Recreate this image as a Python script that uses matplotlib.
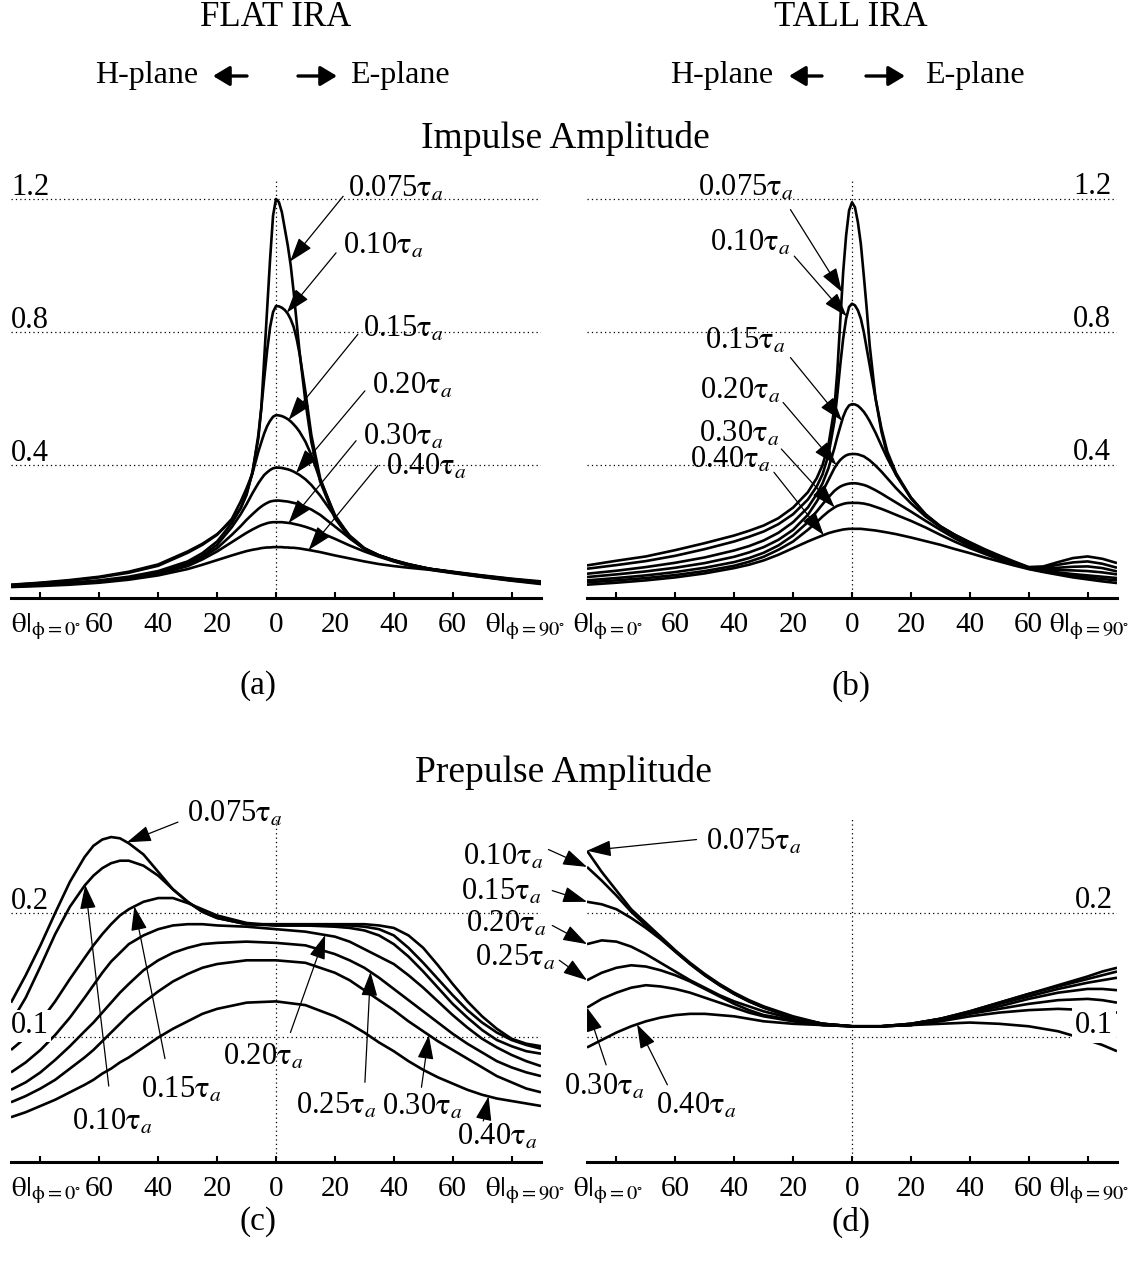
import numpy as np
import matplotlib
matplotlib.use("Agg")
import matplotlib.pyplot as plt

plt.rcParams['font.family'] = ['Liberation Serif', 'DejaVu Serif']
plt.rcParams['mathtext.fontset'] = 'stix'

W, H = 1146, 1272

# ---- impulse amplitude, flat IRA (a) ----
TH_A = [-90, -80, -70, -60, -50, -40, -30, -25, -20, -15, -12, -10, -8, -6, -5, -4, -3, -2, -1, 0,
        1, 2, 3, 4, 5, 6, 7, 8, 10, 12, 15, 20, 25, 30, 35, 40, 45, 52, 60, 70, 80, 90]
A075 = [0.040, 0.046, 0.054, 0.064, 0.079, 0.101, 0.140, 0.163, 0.192, 0.232, 0.270, 0.310, 0.380, 0.480, 0.570, 0.720, 0.870, 1.020, 1.150, 1.200,
        1.190, 1.160, 1.110, 1.060, 1.000, 0.920, 0.830, 0.740, 0.590, 0.470, 0.350, 0.240, 0.180, 0.148, 0.128, 0.114, 0.102, 0.088, 0.079, 0.068, 0.058, 0.050]
A010 = [0.039, 0.045, 0.052, 0.062, 0.076, 0.097, 0.136, 0.160, 0.190, 0.238, 0.290, 0.330, 0.375, 0.490, 0.570, 0.660, 0.745, 0.815, 0.860, 0.878,
        0.877, 0.873, 0.866, 0.855, 0.838, 0.815, 0.780, 0.735, 0.620, 0.490, 0.360, 0.245, 0.182, 0.148, 0.128, 0.113, 0.101, 0.088, 0.078, 0.067, 0.057, 0.048]
A015 = [0.037, 0.041, 0.046, 0.053, 0.064, 0.081, 0.110, 0.135, 0.170, 0.225, 0.270, 0.315, 0.375, 0.440, 0.468, 0.495, 0.517, 0.533, 0.545, 0.550,
        0.549, 0.547, 0.543, 0.538, 0.531, 0.522, 0.512, 0.500, 0.470, 0.430, 0.355, 0.250, 0.185, 0.149, 0.128, 0.113, 0.101, 0.088, 0.078, 0.066, 0.056, 0.047]
A020 = [0.036, 0.040, 0.045, 0.051, 0.061, 0.077, 0.104, 0.127, 0.160, 0.213, 0.252, 0.282, 0.315, 0.345, 0.358, 0.370, 0.378, 0.385, 0.390, 0.392,
        0.392, 0.391, 0.389, 0.387, 0.384, 0.380, 0.375, 0.370, 0.357, 0.340, 0.308, 0.245, 0.188, 0.150, 0.128, 0.112, 0.100, 0.088, 0.077, 0.065, 0.055, 0.046]
A025 = [0.035, 0.039, 0.044, 0.050, 0.060, 0.075, 0.100, 0.122, 0.150, 0.190, 0.216, 0.235, 0.252, 0.268, 0.275, 0.281, 0.286, 0.290, 0.292, 0.293,
        0.293, 0.292, 0.291, 0.290, 0.288, 0.286, 0.284, 0.281, 0.274, 0.266, 0.250, 0.215, 0.180, 0.148, 0.127, 0.111, 0.099, 0.087, 0.077, 0.065, 0.054, 0.045]
A030 = [0.034, 0.038, 0.043, 0.049, 0.058, 0.072, 0.096, 0.116, 0.140, 0.168, 0.185, 0.196, 0.206, 0.215, 0.219, 0.222, 0.225, 0.227, 0.228, 0.228,
        0.228, 0.228, 0.227, 0.226, 0.225, 0.223, 0.221, 0.219, 0.214, 0.208, 0.197, 0.178, 0.158, 0.140, 0.124, 0.110, 0.098, 0.086, 0.076, 0.064, 0.053, 0.044]
A040 = [0.033, 0.036, 0.040, 0.046, 0.055, 0.068, 0.087, 0.100, 0.114, 0.128, 0.136, 0.141, 0.145, 0.148, 0.150, 0.151, 0.152, 0.152, 0.153, 0.153,
        0.153, 0.153, 0.152, 0.152, 0.151, 0.151, 0.150, 0.149, 0.146, 0.143, 0.138, 0.128, 0.119, 0.110, 0.102, 0.096, 0.091, 0.085, 0.075, 0.063, 0.052, 0.042]

# ---- impulse amplitude, tall IRA (b) ----
TH_B = [-90, -80, -70, -60, -50, -40, -35, -30, -25, -20, -15, -12, -10, -8, -6, -5, -4, -3, -2, -1, 0,
        1, 2, 3, 4, 5, 6, 8, 10, 12, 15, 20, 25, 30, 35, 40, 45, 50, 55, 60, 65, 70, 75, 80, 85, 90]
B075 = [0.098, 0.112, 0.125, 0.144, 0.165, 0.188, 0.202, 0.218, 0.240, 0.272, 0.318, 0.360, 0.400, 0.460, 0.570, 0.680, 0.830, 0.980, 1.090, 1.165, 1.190,
        1.175, 1.130, 1.065, 0.970, 0.870, 0.760, 0.600, 0.500, 0.430, 0.370, 0.300, 0.250, 0.215, 0.190, 0.168, 0.147, 0.128, 0.110, 0.093, 0.095, 0.108, 0.120, 0.125, 0.118, 0.105]
B010 = [0.088, 0.099, 0.111, 0.127, 0.147, 0.170, 0.184, 0.200, 0.222, 0.252, 0.296, 0.335, 0.372, 0.430, 0.530, 0.610, 0.700, 0.780, 0.840, 0.875, 0.885,
        0.880, 0.865, 0.840, 0.800, 0.750, 0.700, 0.600, 0.510, 0.440, 0.375, 0.302, 0.250, 0.215, 0.189, 0.166, 0.145, 0.126, 0.108, 0.092, 0.092, 0.100, 0.107, 0.110, 0.103, 0.091]
B015 = [0.073, 0.082, 0.093, 0.106, 0.122, 0.143, 0.156, 0.173, 0.196, 0.228, 0.272, 0.312, 0.345, 0.390, 0.450, 0.484, 0.515, 0.545, 0.566, 0.579, 0.583,
        0.582, 0.578, 0.570, 0.560, 0.547, 0.532, 0.497, 0.458, 0.420, 0.370, 0.302, 0.252, 0.216, 0.189, 0.164, 0.143, 0.124, 0.107, 0.091, 0.089, 0.091, 0.094, 0.095, 0.090, 0.080]
B020 = [0.063, 0.071, 0.080, 0.091, 0.105, 0.124, 0.137, 0.153, 0.175, 0.205, 0.250, 0.290, 0.320, 0.355, 0.390, 0.404, 0.415, 0.423, 0.429, 0.432, 0.433,
        0.433, 0.432, 0.429, 0.426, 0.420, 0.414, 0.398, 0.380, 0.360, 0.330, 0.285, 0.245, 0.213, 0.185, 0.160, 0.140, 0.121, 0.105, 0.090, 0.086, 0.084, 0.083, 0.081, 0.077, 0.071]
B025 = [0.053, 0.060, 0.068, 0.078, 0.091, 0.108, 0.120, 0.136, 0.158, 0.188, 0.228, 0.260, 0.282, 0.303, 0.322, 0.329, 0.335, 0.339, 0.342, 0.344, 0.345,
        0.345, 0.344, 0.342, 0.340, 0.337, 0.333, 0.324, 0.314, 0.303, 0.287, 0.260, 0.232, 0.205, 0.179, 0.156, 0.137, 0.119, 0.104, 0.089, 0.082, 0.077, 0.072, 0.068, 0.064, 0.060]
B030 = [0.047, 0.053, 0.060, 0.069, 0.081, 0.097, 0.109, 0.124, 0.145, 0.170, 0.205, 0.228, 0.245, 0.260, 0.272, 0.277, 0.280, 0.283, 0.285, 0.286, 0.286,
        0.286, 0.286, 0.285, 0.284, 0.282, 0.280, 0.274, 0.268, 0.261, 0.250, 0.232, 0.212, 0.190, 0.169, 0.150, 0.133, 0.116, 0.102, 0.088, 0.080, 0.073, 0.067, 0.062, 0.057, 0.053]
B040 = [0.040, 0.046, 0.053, 0.062, 0.074, 0.090, 0.100, 0.113, 0.130, 0.150, 0.170, 0.181, 0.188, 0.195, 0.200, 0.202, 0.204, 0.206, 0.207, 0.208, 0.208,
        0.208, 0.208, 0.208, 0.207, 0.206, 0.205, 0.203, 0.200, 0.197, 0.192, 0.182, 0.171, 0.160, 0.147, 0.135, 0.122, 0.110, 0.098, 0.087, 0.078, 0.070, 0.062, 0.056, 0.050, 0.045]

# ---- prepulse amplitude, flat IRA (c) ----
TH_C = [-90, -85, -80, -75, -70, -65, -62, -59, -56, -53, -50, -45, -40, -35, -30, -25, -20, -10, 0, 10,
        20, 25, 30, 35, 40, 45, 50, 55, 60, 65, 70, 75, 80, 85, 90]
C075 = [0.128, 0.150, 0.174, 0.200, 0.225, 0.245, 0.254, 0.259, 0.261, 0.260, 0.256, 0.247, 0.233, 0.219, 0.209, 0.201, 0.196, 0.191, 0.191, 0.191,
        0.191, 0.191, 0.191, 0.190, 0.188, 0.182, 0.172, 0.158, 0.143, 0.129, 0.117, 0.107, 0.099, 0.095, 0.093]
C010 = [0.112, 0.132, 0.157, 0.183, 0.205, 0.222, 0.230, 0.236, 0.240, 0.242, 0.242, 0.238, 0.230, 0.219, 0.209, 0.201, 0.196, 0.191, 0.190, 0.190,
        0.190, 0.190, 0.189, 0.187, 0.182, 0.172, 0.160, 0.147, 0.134, 0.122, 0.112, 0.104, 0.098, 0.094, 0.091]
C015 = [0.090, 0.100, 0.113, 0.129, 0.147, 0.164, 0.174, 0.183, 0.191, 0.198, 0.203, 0.209, 0.212, 0.212, 0.208, 0.203, 0.198, 0.192, 0.190, 0.190,
        0.189, 0.188, 0.186, 0.182, 0.175, 0.165, 0.153, 0.140, 0.127, 0.116, 0.106, 0.098, 0.093, 0.089, 0.087]
C020 = [0.072, 0.080, 0.090, 0.102, 0.116, 0.132, 0.142, 0.152, 0.161, 0.168, 0.175, 0.182, 0.187, 0.190, 0.191, 0.191, 0.190, 0.189, 0.187, 0.185,
        0.181, 0.177, 0.171, 0.165, 0.159, 0.150, 0.140, 0.129, 0.118, 0.108, 0.099, 0.092, 0.086, 0.081, 0.077]
C025 = [0.058, 0.064, 0.072, 0.082, 0.093, 0.105, 0.112, 0.120, 0.128, 0.136, 0.143, 0.154, 0.162, 0.168, 0.172, 0.175, 0.176, 0.177, 0.176, 0.174,
        0.167, 0.162, 0.156, 0.148, 0.139, 0.130, 0.121, 0.112, 0.103, 0.095, 0.088, 0.081, 0.076, 0.072, 0.069]
C030 = [0.048, 0.053, 0.059, 0.066, 0.075, 0.084, 0.090, 0.097, 0.104, 0.111, 0.118, 0.128, 0.137, 0.145, 0.151, 0.156, 0.159, 0.162, 0.162, 0.160,
        0.152, 0.146, 0.138, 0.130, 0.122, 0.113, 0.105, 0.097, 0.090, 0.083, 0.076, 0.069, 0.064, 0.059, 0.056]
C040 = [0.036, 0.040, 0.045, 0.050, 0.056, 0.062, 0.066, 0.071, 0.075, 0.080, 0.084, 0.092, 0.100, 0.107, 0.113, 0.119, 0.123, 0.128, 0.129, 0.126,
        0.117, 0.111, 0.104, 0.096, 0.089, 0.081, 0.074, 0.068, 0.063, 0.058, 0.054, 0.051, 0.049, 0.047, 0.045]

# ---- prepulse amplitude, tall IRA (d) ----
TH_D = [-90, -85, -80, -75, -70, -65, -60, -55, -50, -45, -40, -35, -30, -20, -10, 0, 10, 20, 30, 40, 50, 60, 70, 80, 85, 90]
D075 = [0.250, 0.233, 0.218, 0.203, 0.192, 0.181, 0.170, 0.160, 0.151, 0.143, 0.136, 0.130, 0.125, 0.117, 0.111, 0.109, 0.109, 0.111, 0.115, 0.121, 0.128, 0.135, 0.142, 0.149, 0.153, 0.156]
D010 = [0.237, 0.226, 0.214, 0.201, 0.190, 0.180, 0.169, 0.159, 0.150, 0.142, 0.135, 0.129, 0.124, 0.116, 0.111, 0.109, 0.109, 0.111, 0.115, 0.121, 0.128, 0.135, 0.141, 0.147, 0.150, 0.153]
D015 = [0.209, 0.207, 0.203, 0.196, 0.188, 0.179, 0.169, 0.159, 0.150, 0.142, 0.135, 0.129, 0.124, 0.116, 0.111, 0.109, 0.109, 0.111, 0.115, 0.120, 0.127, 0.133, 0.139, 0.144, 0.146, 0.148]
D020 = [0.175, 0.178, 0.177, 0.173, 0.167, 0.160, 0.153, 0.146, 0.140, 0.134, 0.129, 0.125, 0.121, 0.115, 0.111, 0.109, 0.109, 0.110, 0.114, 0.120, 0.125, 0.131, 0.136, 0.139, 0.139, 0.138]
D025 = [0.146, 0.152, 0.156, 0.158, 0.157, 0.154, 0.150, 0.145, 0.139, 0.133, 0.127, 0.122, 0.118, 0.114, 0.110, 0.109, 0.109, 0.110, 0.114, 0.119, 0.123, 0.127, 0.130, 0.131, 0.130, 0.128]
D030 = [0.124, 0.131, 0.136, 0.140, 0.142, 0.141, 0.139, 0.136, 0.132, 0.128, 0.124, 0.120, 0.117, 0.113, 0.110, 0.109, 0.109, 0.110, 0.113, 0.117, 0.120, 0.122, 0.123, 0.122, 0.121, 0.120]
D040 = [0.092, 0.098, 0.104, 0.109, 0.113, 0.116, 0.118, 0.119, 0.119, 0.118, 0.117, 0.115, 0.113, 0.111, 0.110, 0.109, 0.109, 0.110, 0.111, 0.112, 0.111, 0.109, 0.105, 0.098, 0.094, 0.089]

XTICKS = [-80, -60, -40, -20, 0, 20, 40, 60, 80]
XLABELS = ['60', '40', '20', '0', '20', '40', '60']
GRID_IMP = [0.4, 0.8, 1.2]
GRID_PRE = [0.1, 0.2]

TAU = r'$\mathrm{\tau}_{a}$'
TH0 = r'$\left.\mathrm{\theta}\right|_{\mathrm{\phi}=0^{\circ}}$'
TH90 = r'$\left.\mathrm{\theta}\right|_{\mathrm{\phi}=90^{\circ}}$'

fig = plt.figure(figsize=(W / 100, H / 100), dpi=100)


def px_axes(left, right, bottom, top):
    return fig.add_axes([left / W, 1 - bottom / H, (right - left) / W, (bottom - top) / H])


def setup(ax, ytop, grid):
    ax.set_xlim(-90, 90)
    ax.set_ylim(0, ytop)
    for s in ['left', 'right', 'top']:
        ax.spines[s].set_visible(False)
    ax.spines['bottom'].set_linewidth(2.2)
    ax.set_yticks([])
    ax.set_xticks(XTICKS)
    ax.set_xticklabels([])
    ax.tick_params(axis='x', direction='in', length=4, width=1.5)
    ax.patch.set_visible(False)
    for g in grid:
        ax.axhline(g, color='k', lw=0.9, ls=(0, (1, 2.5)), zorder=1)
    ax.axvline(0, color='k', lw=0.9, ls=(0, (1, 2.5)), zorder=1)
    for x, s in zip(XTICKS[1:-1], XLABELS):
        ax.annotate(s, (x, 0), xycoords=('data', 'axes fraction'), xytext=(0, -34),
                    textcoords='offset pixels', ha='center', va='baseline', fontsize=21)


def theta_labels(ax, x0, x90):
    for x, s in [(x0, TH0), (x90, TH90)]:
        ax.annotate(s, (x, 0), xycoords=('data', 'axes fraction'), xytext=(0, -34),
                    textcoords='offset pixels', ha='left', va='baseline', fontsize=21,
                    annotation_clip=False)


def tag(ax, val, txt_xy, tail, tip_x, th, curve):
    tip_y = np.interp(tip_x, th, curve)
    ax.annotate('', xy=(tip_x, tip_y), xytext=tail,
                arrowprops=dict(arrowstyle='-|>,head_length=0.75,head_width=0.25',
                                lw=0.9, color='k', mutation_scale=20, shrinkA=0, shrinkB=0),
                annotation_clip=False, zorder=4)
    ax.text(txt_xy[0], txt_xy[1], val + TAU, ha='center', va='center', fontsize=22,
            clip_on=False, zorder=5)


def curves(ax, th, series):
    for s in series:
        ax.plot(th, s, color='k', lw=1.9, zorder=2, solid_capstyle='butt')


# (a)
ax = px_axes(11, 541, 598, 178)
setup(ax, 1.263, GRID_IMP)
curves(ax, TH_A, [A075, A010, A015, A020, A025, A030, A040])
theta_labels(ax, -90, 71)
for v, yb in [('1.2', 1.213), ('0.8', 0.813), ('0.4', 0.413)]:
    ax.text(-90, yb, v, ha='left', va='baseline', fontsize=22)
tag(ax, '0.075', (40.7, 1.230), (22.8, 1.208), 4.8, TH_A, A075)
tag(ax, '0.10', (36.4, 1.058), (20.4, 1.038), 3.7, TH_A, A010)
tag(ax, '0.15', (43.2, 0.808), (27.8, 0.793), 4.3, TH_A, A015)
tag(ax, '0.20', (46.3, 0.638), (30.2, 0.623), 6.8, TH_A, A020)
tag(ax, '0.30', (43.2, 0.483), (27.2, 0.473), 4.3, TH_A, A030)
tag(ax, '0.40', (51.2, 0.393), (34.6, 0.398), 11.1, TH_A, A040)

# (b)
ax = px_axes(587, 1117, 598, 178)
setup(ax, 1.263, GRID_IMP)
curves(ax, TH_B, [B075, B010, B015, B020, B025, B030, B040])
theta_labels(ax, -94.7, 67)
for v, yb in [('1.2', 1.216), ('0.8', 0.816), ('0.4', 0.416)]:
    ax.text(88, yb, v, ha='right', va='baseline', fontsize=22)
tag(ax, '0.075', (-35.9, 1.233), (-20.9, 1.168), -3.4, TH_B, B075)
tag(ax, '0.10', (-34.6, 1.068), (-19.6, 1.028), -1.8, TH_B, B010)
tag(ax, '0.15', (-36.1, 0.773), (-20.9, 0.723), -3.4, TH_B, B015)
tag(ax, '0.20', (-37.8, 0.623), (-23.4, 0.588), -5.3, TH_B, B020)
tag(ax, '0.30', (-38.4, 0.493), (-24.0, 0.448), -5.9, TH_B, B030)
tag(ax, '0.40', (-41.5, 0.413), (-26.5, 0.378), -9.6, TH_B, B040)

# (c)
ax = px_axes(11, 541, 1162, 818)
setup(ax, 0.2763, GRID_PRE)
curves(ax, TH_C, [C075, C010, C015, C020, C025, C030, C040])
theta_labels(ax, -90, 71)
ax.text(-90, 0.2032, '0.2', ha='left', va='baseline', fontsize=22)
ax.text(-90, 0.1035, '0.1', ha='left', va='baseline', fontsize=22, zorder=3,
        bbox=dict(boxstyle='square,pad=0.05', fc='white', ec='none'))
tag(ax, '0.075', (-13.8, 0.279), (-33.3, 0.273), -50.6, TH_C, C075)
tag(ax, '0.10', (-55.6, 0.032), (-56.8, 0.061), -64.8, TH_C, C010)
tag(ax, '0.15', (-32.1, 0.058), (-37.7, 0.083), -48.1, TH_C, C015)
tag(ax, '0.20', (-4.3, 0.084), (4.9, 0.104), 16.7, TH_C, C020)
tag(ax, '0.25', (20.4, 0.045), (30.2, 0.064), 32.1, TH_C, C025)
tag(ax, '0.30', (49.6, 0.044), (49.4, 0.060), 51.9, TH_C, C030)
tag(ax, '0.40', (75.0, 0.020), (70.4, 0.033), 72.2, TH_C, C040)

# (d)
ax = px_axes(587, 1117, 1162, 818)
setup(ax, 0.2763, GRID_PRE)
curves(ax, TH_D, [D075, D010, D015, D020, D025, D030, D040])
theta_labels(ax, -94.7, 67)
ax.text(88.6, 0.2038, '0.2', ha='right', va='baseline', fontsize=22)
ax.text(88.6, 0.104, '0.1', ha='right', va='baseline', fontsize=22, zorder=3,
        bbox=dict(boxstyle='square,pad=0.1', fc='white', ec='none'))
tag(ax, '0.075', (-33.4, 0.257), (-52.8, 0.259), -90, TH_D, D075)
tag(ax, '0.10', (-118.5, 0.245), (-103.1, 0.251), -90, TH_D, D010)
tag(ax, '0.15', (-119.2, 0.217), (-101.8, 0.218), -90, TH_D, D015)
tag(ax, '0.20', (-117.5, 0.191), (-101.8, 0.190), -90, TH_D, D020)
tag(ax, '0.25', (-114.4, 0.164), (-99.4, 0.162), -90, TH_D, D025)
tag(ax, '0.30', (-84.0, 0.060), (-83.5, 0.078), -90, TH_D, D030)
tag(ax, '0.40', (-53.0, 0.045), (-62.7, 0.062), -73, TH_D, D040)

# header and captions in pixel coordinates
ov = fig.add_axes([0, 0, 1, 1])
ov.set_xlim(0, W)
ov.set_ylim(H, 0)
ov.axis('off')
ov.text(276, 17, 'FLAT IRA', ha='center', va='center', fontsize=25)
ov.text(851, 17, 'TALL IRA', ha='center', va='center', fontsize=25)
for hr, al, ar, el in [(198, (247, 213), (298, 337), 350), (773, (822, 789), (866, 905), 925)]:
    ov.text(hr, 75, 'H-plane', ha='right', va='center', fontsize=23)
    ov.text(el, 75, 'E-plane', ha='left', va='center', fontsize=23)
    for a in (al, ar):
        ov.annotate('', xy=(a[1], 76), xytext=(a[0], 76),
                    arrowprops=dict(arrowstyle='-|>,head_length=0.5,head_width=0.3',
                                    lw=2.4, color='k', mutation_scale=20, shrinkA=0, shrinkB=0))
ov.text(565, 138, 'Impulse Amplitude', ha='center', va='center', fontsize=27)
ov.text(563, 772, 'Prepulse Amplitude', ha='center', va='center', fontsize=27)
for x, y, s in [(258, 686, '(a)'), (851, 686, '(b)'), (258, 1222, '(c)'), (851, 1222, '(d)')]:
    ov.text(x, y, s, ha='center', va='center', fontsize=24)

fig.savefig('out.png', dpi=100)
